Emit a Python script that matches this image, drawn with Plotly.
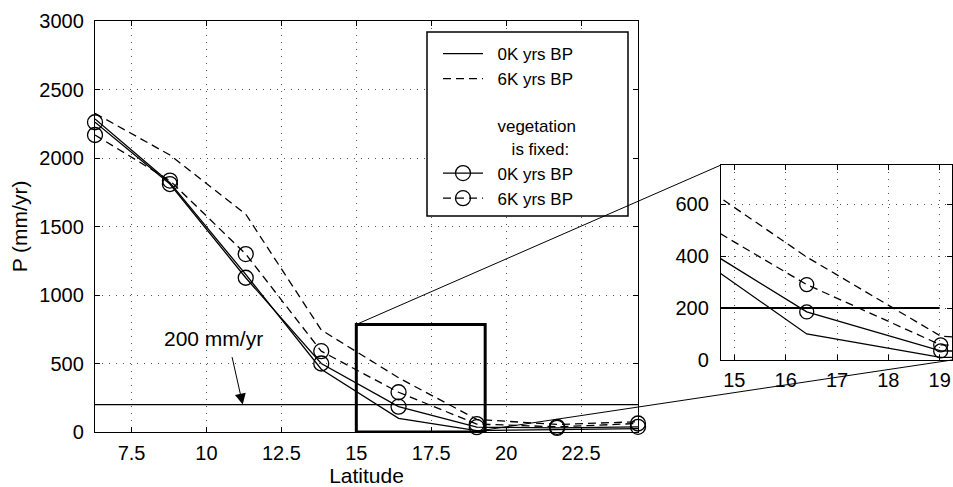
import plotly.graph_objects as go

# ---- data ----
latitude = [6.28, 8.78, 11.31, 13.83, 16.41, 19.02, 21.7, 24.4]
p_0k = [2285, 1820, 1150, 458, 100, 10, 18, 25]
p_6k = [2326, 2022, 1590, 745, 396, 92, 55, 75]
p_0k_fixed = [2261, 1810, 1126, 500, 185, 35, 30, 38]
p_6k_fixed = [2168, 1835, 1299, 590, 290, 58, 38, 62]

x_ticks_main = [7.5, 10, 12.5, 15, 17.5, 20, 22.5]
x_ticklabels_main = ["7.5", "10", "12.5", "15", "17.5", "20", "22.5"]
y_ticks_main = [0, 500, 1000, 1500, 2000, 2500, 3000]
x_ticks_inset = [15, 16, 17, 18, 19]
y_ticks_inset = [0, 200, 400, 600]

threshold = 200
zoom_box = dict(x0=15, x1=19.3, y0=0, y1=785)

# ---- layout geometry ----
W, H = 953, 487
FONT = "Liberation Sans, Arial, Helvetica, sans-serif"
main_xr = [6.28, 24.4]
main_yr = [0, 3000]
inset_xr = [14.74, 19.24]
inset_yr = [0, 750]
main_xd = [95 / W, 638 / W]
main_yd = [1 - 432 / H, 1 - 21 / H]
inset_xd = [721 / W, 952 / W]
inset_yd = [1 - 360 / H, 1 - 165 / H]

NB = "\u00a0\u00a0"


def px_main(v):
    return main_xd[0] + (v - main_xr[0]) / (main_xr[1] - main_xr[0]) * (main_xd[1] - main_xd[0])


def py_main(v):
    return main_yd[0] + (v - main_yr[0]) / (main_yr[1] - main_yr[0]) * (main_yd[1] - main_yd[0])


fig = go.Figure()

series = [
    ("0K yrs BP", p_0k, "solid", "lines"),
    ("6K yrs BP", p_6k, "8px,5px", "lines"),
    (None, None, None, None),
    ("0K yrs BP", p_0k_fixed, "solid", "lines+markers"),
    ("6K yrs BP", p_6k_fixed, "8px,5px", "lines+markers"),
]

for name, vals, dash, mode in series:
    if vals is None:
        fig.add_trace(go.Scatter(
            x=[None], y=[None], mode="lines",
            line=dict(color="rgba(0,0,0,0)", width=1),
            name="\u00a0<br>" + NB + "vegetation<br>" + NB + "\u00a0\u00a0\u00a0is fixed:",
            hoverinfo="skip"))
        continue
    fig.add_trace(go.Scatter(
        x=latitude, y=vals, mode=mode, name=NB + name,
        line=dict(color="black", width=1.3, dash=dash),
        marker=dict(symbol="circle-open", size=15, color="black",
                    line=dict(width=1.3, color="black")),
        cliponaxis=False, xaxis="x", yaxis="y"))
    fig.add_trace(go.Scatter(
        x=latitude, y=vals, mode=mode, showlegend=False,
        line=dict(color="black", width=1.3, dash=dash),
        marker=dict(symbol="circle-open", size=14, color="black",
                    line=dict(width=1.3, color="black")),
        cliponaxis=True, xaxis="x2", yaxis="y2"))

axis_common = dict(
    showline=True, linecolor="black", linewidth=1.3, mirror="ticks",
    ticks="inside", ticklen=5, tickcolor="black", tickwidth=1,
    showgrid=True, gridcolor="#555", gridwidth=1, griddash="1px,6px",
    zeroline=False, automargin=False,
    tickfont=dict(family=FONT, size=20, color="black"),
)

fig.update_layout(
    width=W, height=H,
    margin=dict(l=0, r=0, t=0, b=0),
    template="none",
    paper_bgcolor="white", plot_bgcolor="white",
    font=dict(family=FONT, size=20, color="black"),
    xaxis=dict(domain=main_xd, range=main_xr, tickvals=x_ticks_main,
               ticktext=x_ticklabels_main, ticklabelstandoff=3,
               title=dict(text="Latitude", font=dict(size=21), standoff=2),
               anchor="y", **axis_common),
    yaxis=dict(domain=main_yd, range=main_yr, tickvals=y_ticks_main,
               ticklabelstandoff=6,
               title=dict(text="P (mm/yr)", font=dict(size=21), standoff=5),
               anchor="x", **axis_common),
    xaxis2=dict(domain=inset_xd, range=inset_xr, tickvals=x_ticks_inset,
                ticklabelstandoff=2, anchor="y2", **axis_common),
    yaxis2=dict(domain=inset_yd, range=inset_yr, tickvals=y_ticks_inset,
                ticklabelstandoff=7, anchor="x2", **axis_common),
    showlegend=True,
    legend=dict(x=438 / W, y=1 - 36 / H, xanchor="left", yanchor="top",
                bgcolor="rgba(0,0,0,0)", borderwidth=0,
                font=dict(family=FONT, size=17, color="black"),
                itemwidth=40, tracegroupgap=0),
)

shapes = []
# legend frame
shapes.append(dict(type="rect", xref="paper", yref="paper",
                   x0=427 / W, x1=628 / W, y0=1 - 216 / H, y1=1 - 32 / H,
                   fillcolor="white", line=dict(color="black", width=1.5),
                   layer="above"))
# threshold lines
shapes.append(dict(type="line", xref="x domain", yref="y", x0=0, x1=1,
                   y0=threshold, y1=threshold,
                   line=dict(color="black", width=1.2)))
shapes.append(dict(type="line", xref="x2", yref="y2", x0=inset_xr[0], x1=19.0,
                   y0=threshold, y1=threshold,
                   line=dict(color="black", width=2)))
# zoom box
shapes.append(dict(type="rect", xref="x", yref="y", **zoom_box,
                   line=dict(color="black", width=3)))
# connector lines
shapes.append(dict(type="line", xref="paper", yref="paper",
                   x0=px_main(zoom_box["x0"]), y0=py_main(zoom_box["y1"]),
                   x1=inset_xd[0], y1=inset_yd[1],
                   line=dict(color="black", width=1)))
shapes.append(dict(type="line", xref="paper", yref="paper",
                   x0=px_main(zoom_box["x1"]), y0=py_main(15),
                   x1=inset_xd[1], y1=inset_yd[0],
                   line=dict(color="black", width=1)))
fig.update_layout(shapes=shapes)

fig.add_annotation(x=10.25, y=686, xref="x", yref="y", text="200 mm/yr",
                   showarrow=False, font=dict(size=21, family=FONT))
fig.add_annotation(x=11.21, y=threshold, xref="x", yref="y", text="",
                   showarrow=True, ax=-11, ay=-49, arrowhead=2, arrowsize=2.2,
                   arrowwidth=1, arrowcolor="black", standoff=0)

fig.write_html("out.html")
